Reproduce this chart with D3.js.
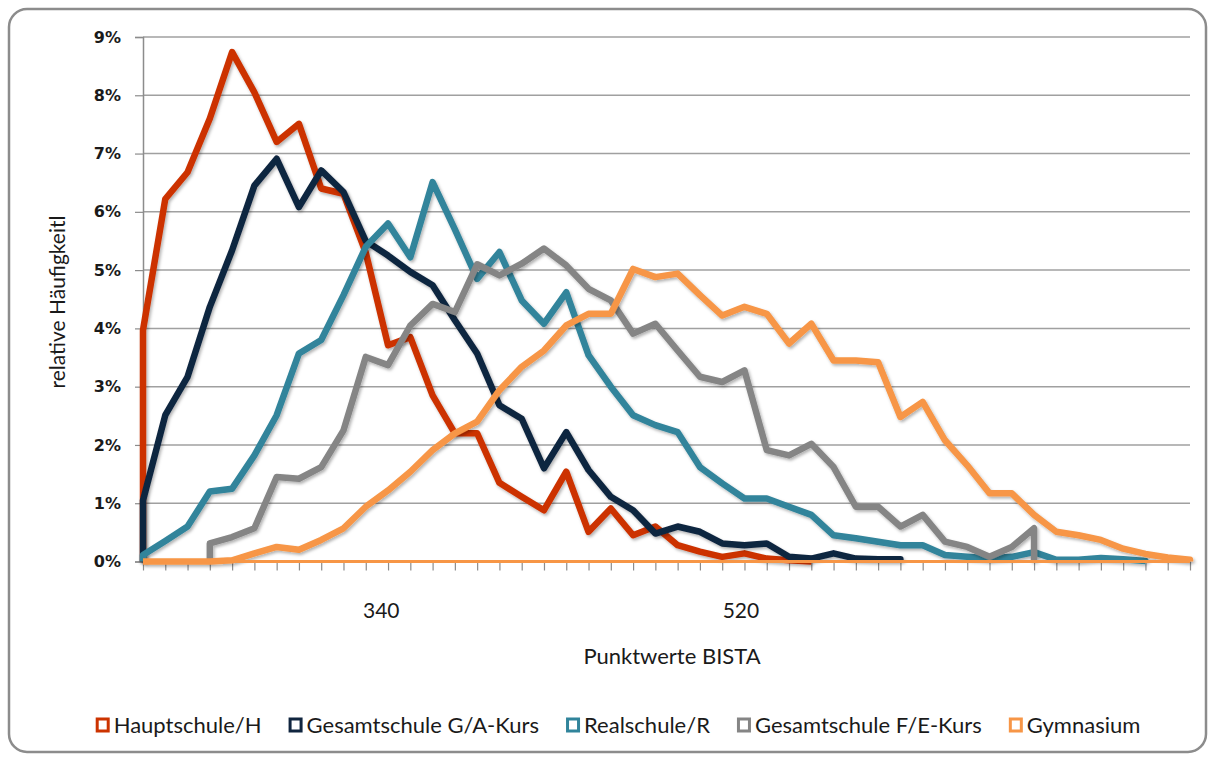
<!DOCTYPE html>
<html>
<head>
<meta charset="utf-8">
<script src="https://cdn.jsdelivr.net/npm/d3@7"></script>
<style>
  body { margin: 0; background: #fff; }
  text { font-family: Lato, "Open Sans", sans-serif; fill: #1a1a1a; }
</style>
</head>
<body>
<div id="chart"></div>
<script>
// relative Häufigkeit in % je Punktwert-Kategorie (48 Kategorien), null = keine Werte
var hauptschule = [3.97, 6.22, 6.68, 7.6, 8.74, 8.05, 7.2, 7.51, 6.4, 6.31, 5.3, 3.71, 3.85, 2.85, 2.2, 2.2,
  1.35, 1.11, 0.88, 1.54, 0.51, 0.91, 0.45, 0.6, 0.28, 0.17, 0.08, 0.14, 0.05, 0.02, 0];
var gaKurs = [1.05, 2.51, 3.17, 4.37, 5.34, 6.45, 6.91, 6.08, 6.71, 6.34, 5.5, 5.25, 4.97, 4.74, 4.14, 3.57,
  2.68, 2.45, 1.6, 2.22, 1.57, 1.11, 0.88, 0.48, 0.6, 0.51, 0.31, 0.28, 0.31, 0.08, 0.05, 0.14,
  0.05, 0.04, 0.04];
var realschule = [0.11, 0.35, 0.6, 1.2, 1.25, 1.82, 2.51, 3.57, 3.8, 4.57, 5.4, 5.8, 5.22, 6.51, 5.7, 4.85,
  5.31, 4.48, 4.08, 4.62, 3.54, 3.0, 2.51, 2.34, 2.22, 1.62, 1.34, 1.08, 1.08, 0.94, 0.8, 0.45,
  0.4, 0.34, 0.28, 0.28, 0.11, 0.08, 0.05, 0.08, 0.16, 0.03, 0.03, 0.06, 0.04, 0.01];
var feKurs = [null, null, null, 0.31, 0.42, 0.57, 1.45, 1.42, 1.62, 2.25, 3.51, 3.37, 4.05, 4.42, 4.28, 5.1,
  4.91, 5.11, 5.37, 5.08, 4.68, 4.48, 3.91, 4.08, 3.62, 3.17, 3.08, 3.28, 1.91, 1.82, 2.02, 1.62,
  0.94, 0.94, 0.6, 0.8, 0.34, 0.25, 0.08, 0.25, 0.57];
var gymnasium = [0, 0, 0, 0, 0.02, 0.14, 0.25, 0.2, 0.37, 0.57, 0.94, 1.22, 1.54, 1.91, 2.2, 2.4,
  2.94, 3.34, 3.62, 4.05, 4.25, 4.25, 5.02, 4.88, 4.94, 4.57, 4.22, 4.37, 4.25, 3.74, 4.08, 3.45,
  3.45, 3.42, 2.48, 2.74, 2.08, 1.65, 1.17, 1.17, 0.8, 0.51, 0.45, 0.37, 0.22, 0.13, 0.07, 0.03];

var seriesNames = ["Hauptschule/H", "Gesamtschule G/A-Kurs", "Realschule/R", "Gesamtschule F/E-Kurs", "Gymnasium"];
var seriesColors = ["#cc3300", "#10253f", "#31849b", "#858585", "#f79646"];
var seriesValues = [hauptschule, gaKurs, realschule, feKurs, gymnasium];

var categoryCount = 48;
var xTickLabels = [340, 520];
var yTicks = [0, 1, 2, 3, 4, 5, 6, 7, 8, 9];

var svgWidth = 1215, svgHeight = 761;
var margin = { top: 37, right: 25, bottom: 200, left: 143 };
var width = 1190 - margin.left;
var height = 561.5 - margin.top;

var svg = d3.select("#chart").append("svg")
  .attr("width", svgWidth)
  .attr("height", svgHeight);

// soft shadow like the office chart lines
var filter = svg.append("defs").append("filter")
  .attr("id", "shadow")
  .attr("x", "-5%").attr("y", "-5%").attr("width", "110%").attr("height", "110%");
filter.append("feDropShadow")
  .attr("dx", 1.5).attr("dy", 2).attr("stdDeviation", 1.5)
  .attr("flood-color", "#000").attr("flood-opacity", 0.3);

// outer frame
svg.append("rect")
  .attr("x", 9).attr("y", 9)
  .attr("width", 1197).attr("height", 743)
  .attr("rx", 18)
  .attr("fill", "#fff")
  .attr("stroke", "#8c8c8c")
  .attr("stroke-width", 2.5);

var chartGroup = svg.append("g")
  .attr("transform", `translate(${margin.left}, ${margin.top})`);

// scales
var xScale = d3.scaleLinear().domain([0, categoryCount - 1]).range([0, width]);
var scoreScale = d3.scaleLinear().domain([221, 745]).range([0, width]);
var yScale = d3.scaleLinear().domain([0, 9]).range([height, 0]);

// gridlines
chartGroup.append("g")
  .selectAll("line")
  .data(yTicks.filter(d => d > 0))
  .enter()
  .append("line")
  .attr("x1", 0).attr("x2", width)
  .attr("y1", d => yScale(d)).attr("y2", d => yScale(d))
  .attr("stroke", "#a0a0a0")
  .attr("stroke-width", 1.5);

// y axis
var yAxis = d3.axisLeft(yScale).tickValues(yTicks).tickSize(8).tickPadding(14)
  .tickFormat(d => d + "%");
var yG = chartGroup.append("g").call(yAxis);
yG.select(".domain").attr("stroke", "#8c8c8c").attr("stroke-width", 1.5);
yG.selectAll(".tick line").attr("stroke", "#8c8c8c").attr("stroke-width", 1.2);
yG.selectAll(".tick text")
  .style("font-family", "'DejaVu Sans', sans-serif")
  .style("font-size", "16px")
  .style("font-weight", "bold")
  .attr("fill", "#333");

// x axis tick marks (one per category)
var xAxis = d3.axisBottom(xScale).tickValues(d3.range(categoryCount))
  .tickSize(9).tickFormat("");
var xG = chartGroup.append("g")
  .attr("transform", `translate(0, ${height})`)
  .call(xAxis);
xG.select(".domain").remove();
xG.selectAll(".tick line").attr("stroke", "#8c8c8c").attr("stroke-width", 1.2);

// x tick labels on the score scale
var scoreAxis = d3.axisBottom(scoreScale).tickValues(xTickLabels).tickSize(0).tickPadding(42);
var sG = chartGroup.append("g")
  .attr("transform", `translate(0, ${height})`)
  .call(scoreAxis);
sG.select(".domain").remove();
sG.selectAll(".tick text")
  .style("font-family", "Lato, sans-serif")
  .style("font-size", "21px")
  .attr("fill", "#1a1a1a");

// lines
var line = d3.line()
  .x(d => xScale(d[0]))
  .y(d => yScale(d[1]));

seriesValues.forEach(function(values, i) {
  var pts = [];
  values.forEach(function(v, j) {
    if (v !== null && v !== undefined) pts.push([j, v]);
  });
  // series start and end on the zero line
  pts.unshift([pts[0][0], 0]);
  pts.push([pts[pts.length - 1][0], 0]);
  chartGroup.append("path")
    .datum(pts)
    .attr("d", line)
    .attr("fill", "none")
    .attr("stroke", seriesColors[i])
    .attr("stroke-width", 6.5)
    .attr("stroke-linejoin", "round")
    .attr("filter", "url(#shadow)");
});

// zero line on top
chartGroup.append("line")
  .attr("x1", 0).attr("x2", width)
  .attr("y1", height).attr("y2", height)
  .attr("stroke", "#f79646")
  .attr("stroke-width", 3);

// axis titles
svg.append("text")
  .attr("transform", "rotate(-90)")
  .attr("x", -302)
  .attr("y", 65)
  .attr("text-anchor", "middle")
  .style("font-size", "21px")
  .text("relative Häufigkeitl");

svg.append("text")
  .attr("x", 672)
  .attr("y", 664)
  .attr("text-anchor", "middle")
  .style("font-size", "22px")
  .text("Punktwerte BISTA");

// legend
var legend = svg.append("g");
var lx = 0;
seriesNames.forEach(function(name, i) {
  var item = legend.append("g").attr("transform", `translate(${lx}, 0)`);
  item.append("rect")
    .attr("x", 1.5).attr("y", -14)
    .attr("width", 11).attr("height", 12)
    .attr("fill", "#fff")
    .attr("stroke", seriesColors[i])
    .attr("stroke-width", 3);
  var t = item.append("text")
    .attr("x", 18)
    .attr("y", 0)
    .style("font-size", "22px")
    .text(name);
  lx += 18 + t.node().getComputedTextLength() + 27;
});
lx -= 27;
legend.attr("transform", `translate(${618 - lx / 2}, 733)`);
</script>
</body>
</html>
